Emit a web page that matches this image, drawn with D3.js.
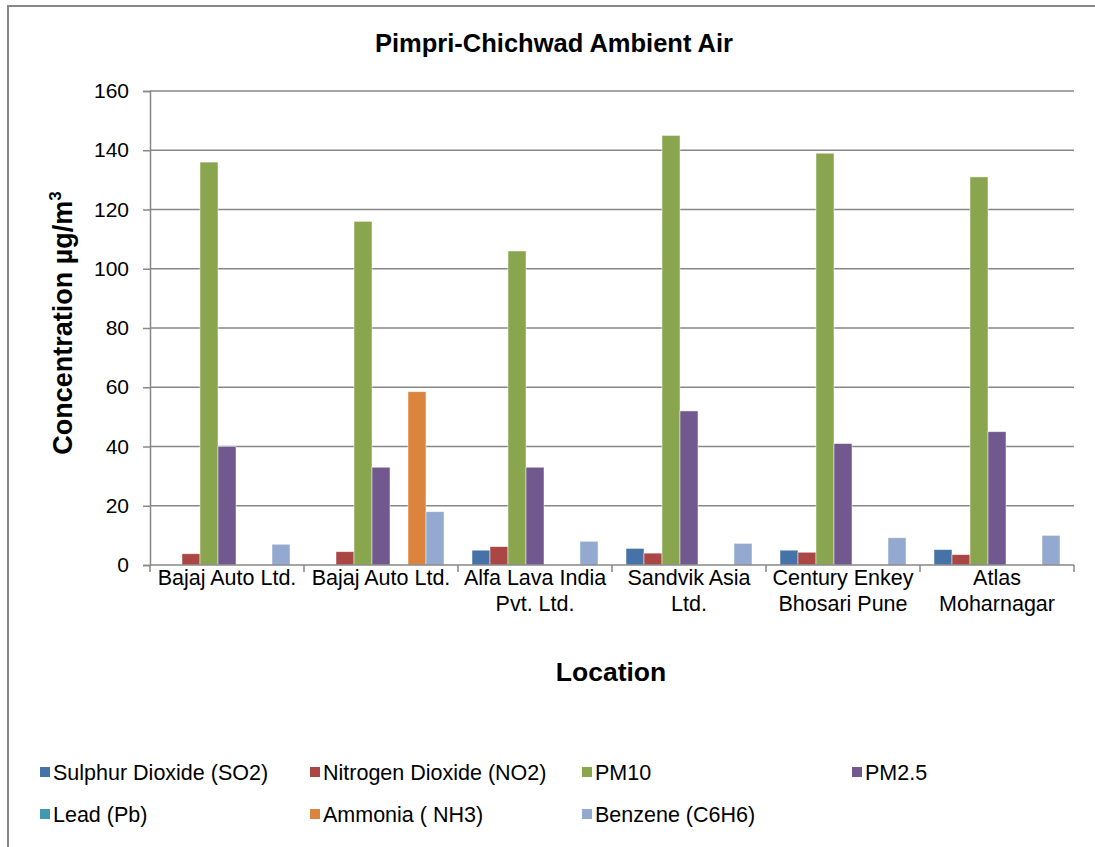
<!DOCTYPE html>
<html><head><meta charset="utf-8">
<script src="https://cdn.jsdelivr.net/npm/d3@7"></script>
<style>
html,body{margin:0;padding:0;background:#fff;}
text{font-family:"Liberation Sans",Arial,sans-serif;fill:#000;}
</style></head>
<body><svg id="c" width="1095" height="847"></svg>
<script>
const categories = ["Bajaj Auto Ltd.", "Bajaj Auto Ltd.", "Alfa Lava India\nPvt. Ltd.", "Sandvik Asia\nLtd.", "Century Enkey\nBhosari Pune", "Atlas\nMoharnagar"];
const seriesNames = ["Sulphur Dioxide (SO2)", "Nitrogen Dioxide (NO2)", "PM10", "PM2.5", "Lead (Pb)", "Ammonia ( NH3)", "Benzene (C6H6)"];
const seriesColors = ["#4572A7", "#AA4643", "#89A54E", "#71588F", "#4198AF", "#DB843D", "#93A9CF"];
const so2 = [null, null, 5.0, 5.6, 5.0, 5.2];
const no2 = [3.8, 4.5, 6.2, 4.0, 4.3, 3.5];
const pm10 = [136, 116, 106, 145, 139, 131];
const pm25 = [40, 33, 33, 52, 41, 45];
const lead = [null, null, null, null, null, null];
const nh3 = [null, 58.5, null, null, null, null];
const benzene = [7.0, 18.0, 8.0, 7.3, 9.2, 10.0];
const yTicks = [0, 20, 40, 60, 80, 100, 120, 140, 160];

const seriesValues = [so2, no2, pm10, pm25, lead, nh3, benzene];

const svg = d3.select("#c");
const L = 150, R = 1074, T = 91, B = 565;
const gridColor = "#878787";

// chart border
svg.append("path").attr("d", "M8,847 V6 H1095").attr("fill", "none").attr("stroke", gridColor).attr("stroke-width", 2);

const x0 = d3.scaleBand().domain(d3.range(categories.length)).range([L, R]).paddingInner(28/154).paddingOuter(14/154);
const x1 = d3.scaleBand().domain(d3.range(seriesNames.length)).range([0, x0.bandwidth()]);
const y = d3.scaleLinear().domain([0, 160]).range([B, T]);

// gridlines
svg.append("g").selectAll("line").data(yTicks.filter(d => d > 0)).join("line")
  .attr("x1", L).attr("x2", R).attr("y1", d => y(d)).attr("y2", d => y(d))
  .attr("stroke", gridColor).attr("stroke-width", 1.5);

// y axis
const yAxis = svg.append("g").attr("transform", `translate(${L},0)`)
  .call(d3.axisLeft(y).tickValues(yTicks).tickSize(7).tickPadding(14));
yAxis.select(".domain").attr("stroke", gridColor).attr("stroke-width", 1.5);
yAxis.selectAll(".tick line").attr("stroke", gridColor).attr("stroke-width", 1.5);
yAxis.selectAll(".tick text").attr("font-size", 21).attr("font-family", "Liberation Sans, Arial, sans-serif").attr("fill", "#000");

// bars
const data = [];
categories.forEach((c, i) => seriesValues.forEach((s, j) => { if (s[i] != null) data.push({i, j, v: s[i]}); }));
svg.append("g").selectAll("rect").data(data).join("rect")
  .attr("x", d => x0(d.i) + x1(d.j)).attr("width", x1.bandwidth())
  .attr("y", d => y(d.v)).attr("height", d => y(0) - y(d.v))
  .attr("fill", d => seriesColors[d.j])
  .attr("stroke", "rgba(255,255,255,0.6)").attr("stroke-width", 0.8);

// x axis line
const xb = d3.scaleLinear().domain([0, categories.length]).range([L, R]);
svg.append("line").attr("x1", L).attr("x2", R).attr("y1", B).attr("y2", B).attr("stroke", gridColor).attr("stroke-width", 1.5);
svg.append("g").selectAll("line").data(d3.range(categories.length + 1)).join("line")
  .attr("x1", d => xb(d)).attr("x2", d => xb(d)).attr("y1", B).attr("y2", B + 7)
  .attr("stroke", gridColor).attr("stroke-width", 1.5);

// category labels
const cl = svg.append("g").selectAll("text").data(categories).join("text")
  .attr("text-anchor", "middle").attr("font-size", 21.5)
  .attr("x", (d, i) => x0(i) + x0.bandwidth() / 2).attr("y", 585);
cl.each(function(d) {
  const lines = d.split("\n");
  d3.select(this).selectAll("tspan").data(lines).join("tspan")
    .attr("x", d3.select(this).attr("x")).attr("dy", (l, k) => k === 0 ? 0 : 26).text(l => l);
});

// title
svg.append("text").attr("x", 554).attr("y", 52).attr("text-anchor", "middle")
  .attr("font-size", 25.5).attr("font-weight", "bold").text("Pimpri-Chichwad Ambient Air");

// axis titles
svg.append("text").attr("x", 611).attr("y", 681).attr("text-anchor", "middle")
  .attr("font-size", 26.5).attr("font-weight", "bold").text("Location");
const yt = svg.append("text").attr("transform", "translate(72,323) rotate(-90)").attr("text-anchor", "middle")
  .attr("font-size", 27).attr("font-weight", "bold");
yt.append("tspan").text("Concentration µg/m");
yt.append("tspan").attr("font-size", 17).attr("dy", -11).text("3");

// legend
const legX = [40, 310, 582, 852];
const leg = svg.append("g").selectAll("g").data(seriesNames).join("g")
  .attr("transform", (d, i) => `translate(${legX[i % 4]},${i < 4 ? 773 : 815})`);
leg.append("rect").attr("x", 0).attr("y", -6).attr("width", 10).attr("height", 10).attr("fill", (d, i) => seriesColors[i]);
leg.append("text").attr("x", 13).attr("y", 7).attr("font-size", 21.5).text(d => d);
</script></body></html>
